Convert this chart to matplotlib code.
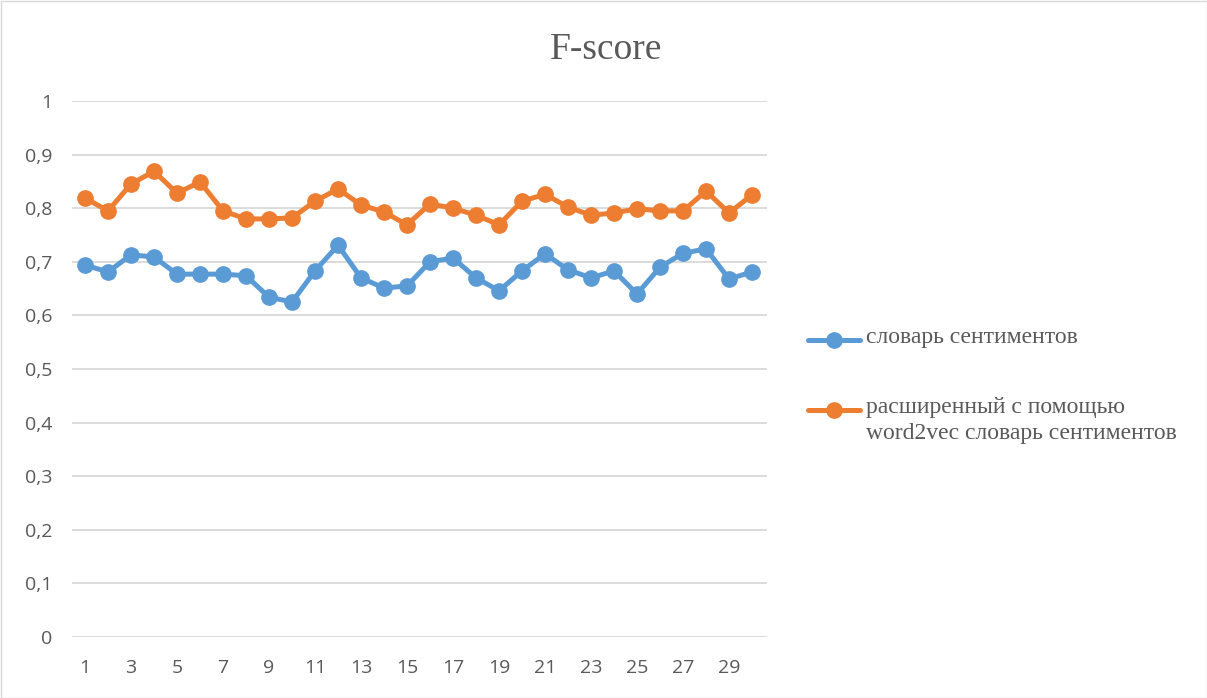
import numpy as np
import matplotlib.pyplot as plt
from matplotlib.lines import Line2D
from matplotlib.patches import Rectangle

# номера экспериментов
runs = list(range(1, 31))

# F-score: словарь сентиментов
base_scores = [0.694, 0.681, 0.713, 0.709, 0.677, 0.677, 0.677, 0.674, 0.634, 0.625,
               0.683, 0.731, 0.670, 0.651, 0.655, 0.700, 0.707, 0.670, 0.646, 0.683,
               0.715, 0.685, 0.670, 0.683, 0.640, 0.690, 0.716, 0.724, 0.668, 0.681]

# F-score: словарь, расширенный с помощью word2vec
w2v_scores = [0.819, 0.795, 0.845, 0.869, 0.828, 0.849, 0.795, 0.780, 0.780, 0.782,
              0.813, 0.836, 0.806, 0.793, 0.769, 0.808, 0.800, 0.787, 0.769, 0.813,
              0.826, 0.802, 0.787, 0.791, 0.799, 0.795, 0.795, 0.832, 0.791, 0.825]

labels = ["словарь сентиментов", "расширенный с помощью\nword2vec словарь сентиментов"]
colors = ["#5B9BD5", "#ED7D31"]
yticks = [0, 0.1, 0.2, 0.3, 0.4, 0.5, 0.6, 0.7, 0.8, 0.9, 1]

fig = plt.figure(figsize=(12.07, 6.98), dpi=100)
ax = fig.add_axes([72 / 1207, 61 / 698, 695 / 1207, 536 / 698])

for vals, c in zip([base_scores, w2v_scores], colors):
    ax.plot(runs, vals, color=c, lw=3.6, marker="o", ms=11, solid_capstyle="round")

ax.set_ylim(0, 1)
ax.set_xlim(0.435, 30.65)
ax.set_yticks(yticks)
ax.set_yticklabels([f"{t:g}".replace(".", ",") for t in yticks])
ax.set_xticks(runs[::2])
ax.grid(axis="y", color="#d9d9d9", lw=1.3)
ax.set_axisbelow(True)
for s in ax.spines.values():
    s.set_visible(False)
ax.tick_params(length=0, labelsize=14, colors="#595959")
ax.tick_params(axis="x", pad=16)
ax.tick_params(axis="y", pad=14)
for lab in ax.get_xticklabels() + ax.get_yticklabels():
    lab.set_family("Open Sans")

fig.text(606 / 1207, 1 - 50 / 698, "F-score", ha="center", va="center",
         family="Liberation Serif", fontsize=27, color="#595959")

# легенда справа
for i, (lab, c) in enumerate(zip(labels, colors)):
    y = 1 - (340 + 70 * i) / 698
    fig.add_artist(Line2D([808 / 1207, 860 / 1207], [y, y], color=c, lw=3.6,
                          solid_capstyle="round", transform=fig.transFigure))
    fig.add_artist(Line2D([834 / 1207], [y], color=c, marker="o", ms=11,
                          transform=fig.transFigure))
    fig.text(866 / 1207, y + 13 / 698, lab, ha="left", va="top",
             family="Liberation Serif", fontsize=17, color="#595959",
             linespacing=1.3)

fig.add_artist(Rectangle((0.5 / 1207, 0.5 / 698), 1206 / 1207, 697 / 698,
                         fill=False, edgecolor="#d9d9d9", lw=1, transform=fig.transFigure))

fig.savefig("out.png", dpi=100)
